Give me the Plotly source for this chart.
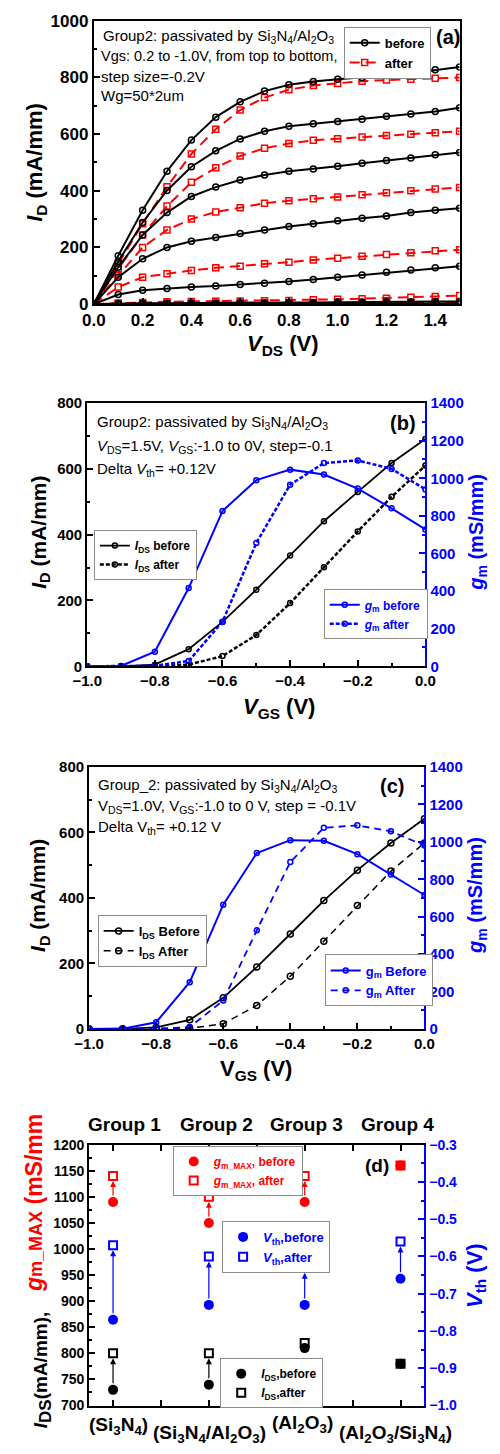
import plotly.graph_objects as go

W, H = 500, 1454
def fx(px): return px / W
def fy(py): return 1 - py / H

BLACK = "#000000"; RED = "#FF0000"; BLUE = "#0000FF"; GRAY = "#8c8c8c"
FONT = "Liberation Sans, Arial, sans-serif"

# ---------------- panel (a) data: output curves ----------------
vds = [0.0, 0.1, 0.2, 0.3, 0.4, 0.5, 0.6, 0.7, 0.8, 0.9, 1.0, 1.1, 1.2, 1.3, 1.4, 1.5]
vgs_steps = ["0.2", "0.0", "-0.2", "-0.4", "-0.6", "-0.8", "-1.0"]
id_before_p02 = [0, 171, 331, 469, 579, 660, 714, 752, 774, 786, 794, 800, 807, 815, 827, 837]
id_before_0 = [0, 150, 288, 401, 485, 541, 583, 610, 628, 637, 645, 653, 663, 671, 680, 693]
id_before_m02 = [0, 130, 244, 323, 380, 413, 438, 456, 469, 477, 487, 497, 507, 516, 527, 535]
id_before_m04 = [0, 95, 160, 200, 222, 235, 249, 262, 274, 284, 294, 303, 311, 323, 331, 338]
id_before_m06 = [0, 34, 49, 55, 60, 64, 69, 74, 80, 87, 95, 103, 112, 120, 128, 134]
id_before_m08 = [0, 2, 3, 3, 4, 4, 5, 5, 6, 6, 7, 7, 8, 8, 9, 9]
id_before_m10 = [0, 0, 1, 1, 1, 1, 1, 1, 1, 1, 2, 2, 2, 2, 2, 2]
id_after_p02 = [0, 142, 284, 414, 530, 617, 685, 729, 757, 772, 779, 787, 791, 794, 797, 800]
id_after_0 = [0, 125, 244, 346, 430, 481, 523, 550, 567, 578, 584, 590, 595, 600, 605, 610]
id_after_m02 = [0, 101, 200, 262, 300, 325, 340, 356, 365, 372, 378, 386, 393, 400, 406, 412]
id_after_m04 = [0, 60, 95, 107, 119, 128, 134, 142, 148, 156, 162, 169, 175, 181, 188, 192]
id_after_m06 = [0, 4, 6, 8, 9, 10, 11, 12, 13, 15, 17, 19, 21, 24, 27, 30]
id_after_m08 = [0, 1, 1, 2, 2, 2, 2, 3, 3, 3, 3, 4, 4, 4, 5, 5]
id_after_m10 = [0, 0, 0, 0, 0, 0, 0, 0, 0, 0, 1, 1, 1, 1, 1, 1]

# ---------------- panel (b) data: transfer, VDS = 1.5 V ----------------
vgs = [-1.0, -0.9, -0.8, -0.7, -0.6, -0.5, -0.4, -0.3, -0.2, -0.1, 0.0]
b_ids_before = [0, 0, 5, 52, 135, 233, 337, 441, 530, 618, 691]
b_ids_after = [0, 0, 0, 5, 31, 95, 192, 301, 410, 515, 610]
b_gm_before = [0, 2, 78, 416, 826, 990, 1046, 1020, 945, 840, 728]
b_gm_after = [0, 0, 3, 28, 237, 656, 966, 1081, 1095, 1050, 941]

# ---------------- panel (c) data: transfer, VDS = 1.0 V ----------------
c_ids_before = [0, 0, 5, 28, 95, 189, 290, 392, 485, 568, 642]
c_ids_after = [0, 0, 0, 2, 16, 72, 161, 268, 377, 482, 568]
c_gm_before = [0, 2, 36, 250, 664, 940, 1009, 1006, 934, 825, 716]
c_gm_after = [0, 0, 2, 10, 152, 527, 892, 1075, 1088, 1056, 980]

# ---------------- panel (d) data: group summary ----------------
groups = [1, 2, 3, 4]
group_names = ["Group 1", "Group 2", "Group 3", "Group 4"]
group_layers = ["(Si<sub>3</sub>N<sub>4</sub>)", "(Si<sub>3</sub>N<sub>4</sub>/Al<sub>2</sub>O<sub>3</sub>)",
                "(Al<sub>2</sub>O<sub>3</sub>)", "(Al<sub>2</sub>O<sub>3</sub>/Si<sub>3</sub>N<sub>4</sub>)"]
gm_max_before = [1090, 1050, 1090, 1160]
gm_max_after = [1140, 1100, 1140, 1160]
vth_before = [-0.77, -0.73, -0.73, -0.66]
vth_after = [-0.57, -0.60, -0.63, -0.56]
ids_max_before = [730, 740, 810, 780]
ids_max_after = [800, 800, 820, 780]

fig = go.Figure()

# ---------- panel (a) traces ----------
befores = [id_before_p02, id_before_0, id_before_m02, id_before_m04, id_before_m06, id_before_m08, id_before_m10]
afters = [id_after_p02, id_after_0, id_after_m02, id_after_m04, id_after_m06, id_after_m08, id_after_m10]
for i, ys in enumerate(afters):
    fig.add_trace(go.Scatter(x=vds, y=ys, xaxis="x", yaxis="y", mode="lines+markers",
                             line=dict(color=RED, width=2, dash="10px,6px"),
                             marker=dict(symbol="square-open", size=6, color=RED, line=dict(width=1.5)),
                             name="after", legend="legend", legendgroup="a_after", legendrank=2,
                             showlegend=(i == 0)))
for i, ys in enumerate(befores):
    fig.add_trace(go.Scatter(x=vds, y=ys, xaxis="x", yaxis="y", mode="lines+markers",
                             line=dict(color=BLACK, width=2),
                             marker=dict(symbol="circle-open", size=6, color=BLACK, line=dict(width=1.5)),
                             name="before", legend="legend", legendgroup="a_before", legendrank=1,
                             showlegend=(i == 0)))

# ---------- panel (b) traces ----------
def mk(sym, color, size=6, lw=1.5):
    return dict(symbol=sym, size=size, color=color, line=dict(width=lw, color=color))

fig.add_trace(go.Scatter(x=vgs, y=b_ids_before, xaxis="x2", yaxis="y2", mode="lines+markers",
                         line=dict(color=BLACK, width=1.8), marker=mk("circle-open", BLACK, 5),
                         name="<i>I</i><sub>DS</sub> before", legend="legend2"))
fig.add_trace(go.Scatter(x=vgs, y=b_ids_after, xaxis="x2", yaxis="y2", mode="lines+markers",
                         line=dict(color=BLACK, width=2.5, dash="4px,2px"), marker=mk("circle-open", BLACK, 5),
                         name="<i>I</i><sub>DS</sub> after", legend="legend2"))
fig.add_trace(go.Scatter(x=vgs, y=b_gm_before, xaxis="x2", yaxis="y3", mode="lines+markers",
                         line=dict(color=BLUE, width=2), marker=mk("circle-open", BLUE, 5),
                         name="<i>g</i><sub>m</sub> before", legend="legend3"))
fig.add_trace(go.Scatter(x=vgs, y=b_gm_after, xaxis="x2", yaxis="y3", mode="lines+markers",
                         line=dict(color=BLUE, width=2.5, dash="4px,2px"), marker=mk("circle-open", BLUE, 5),
                         name="<i>g</i><sub>m</sub> after", legend="legend3"))

# ---------- panel (c) traces ----------
fig.add_trace(go.Scatter(x=vgs, y=c_ids_before, xaxis="x3", yaxis="y4", mode="lines+markers",
                         line=dict(color=BLACK, width=1.8), marker=mk("circle-open", BLACK, 6),
                         name="I<sub>DS</sub> Before", legend="legend4"))
fig.add_trace(go.Scatter(x=vgs, y=c_ids_after, xaxis="x3", yaxis="y4", mode="lines+markers",
                         line=dict(color=BLACK, width=1.5, dash="7px,5px"), marker=mk("circle-open", BLACK, 6),
                         name="I<sub>DS</sub> After", legend="legend4"))
fig.add_trace(go.Scatter(x=vgs, y=c_gm_before, xaxis="x3", yaxis="y5", mode="lines+markers",
                         line=dict(color=BLUE, width=2), marker=mk("circle-open", BLUE, 5),
                         name="g<sub>m</sub> Before", legend="legend5"))
fig.add_trace(go.Scatter(x=vgs, y=c_gm_after, xaxis="x3", yaxis="y5", mode="lines+markers",
                         line=dict(color=BLUE, width=1.8, dash="7px,5px"), marker=mk("circle-open", BLUE, 5),
                         name="g<sub>m</sub> After", legend="legend5"))

# ---------- panel (d) traces ----------
fig.add_trace(go.Scatter(x=groups, y=gm_max_before, xaxis="x4", yaxis="y6", mode="markers",
                         marker=dict(symbol="circle", size=10, color=RED),
                         name="<i>g</i><sub>m_MAX</sub>, before", legend="legend6"))
fig.add_trace(go.Scatter(x=groups, y=gm_max_after, xaxis="x4", yaxis="y6", mode="markers",
                         marker=mk("square-open", RED, 8, 2),
                         name="<i>g</i><sub>m_MAX</sub>, after", legend="legend6"))
fig.add_trace(go.Scatter(x=groups, y=vth_before, xaxis="x4", yaxis="y7", mode="markers",
                         marker=dict(symbol="circle", size=10, color=BLUE),
                         name="<i>V</i><sub>th</sub>,before", legend="legend7"))
fig.add_trace(go.Scatter(x=groups, y=vth_after, xaxis="x4", yaxis="y7", mode="markers",
                         marker=mk("square-open", BLUE, 8, 2),
                         name="<i>V</i><sub>th</sub>,after", legend="legend7"))
fig.add_trace(go.Scatter(x=groups, y=ids_max_before, xaxis="x4", yaxis="y6", mode="markers",
                         marker=dict(symbol="circle", size=10, color=BLACK),
                         name="<i>I</i><sub>DS</sub>,before", legend="legend8"))
fig.add_trace(go.Scatter(x=groups, y=ids_max_after, xaxis="x4", yaxis="y6", mode="markers",
                         marker=mk("square-open", BLACK, 8, 2),
                         name="<i>I</i><sub>DS</sub>,after", legend="legend8"))

# arrows from "before" to "after"
def arrows(before, after, yref, color, min_diff):
    for g, b, a in zip(groups, before, after):
        if abs(a - b) >= min_diff:
            fig.add_annotation(x=g, y=a, ax=g, ay=b, xref="x4", yref=yref, axref="x4", ayref=yref,
                               text="", showarrow=True, arrowhead=2, arrowsize=1, arrowwidth=1.2,
                               arrowcolor=color, standoff=5, startstandoff=5)

arrows(gm_max_before, gm_max_after, "y6", RED, 20)
arrows(vth_before, vth_after, "y7", BLUE, 0.05)
arrows(ids_max_before, ids_max_after, "y6", BLACK, 20)

# ---------- axes ----------
def ax(domain, rng, dtick, tick0, minor, size, color=BLACK, fmt=None, **kw):
    d = dict(domain=domain, range=rng, dtick=dtick, tick0=tick0, tickmode="linear",
             ticks="inside", ticklen=6, tickwidth=1.5, tickcolor=color,
             showline=True, linewidth=2, linecolor=color, showgrid=False, zeroline=False,
             tickfont=dict(family=FONT, size=size, color=color, weight="bold"),
             minor=dict(dtick=minor, ticks="inside", ticklen=3, tickwidth=1.5, tickcolor=color, showgrid=False))
    if fmt:
        d["tickformat"] = fmt
    d.update(kw)
    return d

layout_axes = dict(
    xaxis=ax([fx(83), fx(468)], [0, 1.5], 0.2, 0, 0.1, 17, fmt=".1f", anchor="y", mirror=True),
    yaxis=ax([fy(299), fy(12)], [0, 1000], 200, 0, 100, 17, anchor="x", mirror=True),
    xaxis2=ax([fx(76), fx(432)], [-1, 0], 0.2, -1, 0.1, 15, fmt=".1f", anchor="y2", mirror=True),
    yaxis2=ax([fy(666), fy(399.3)], [0, 800], 200, 0, 100, 15, anchor="x2"),
    yaxis3=ax([fy(666), fy(399.3)], [0, 1400], 200, 0, 100, 15, color=BLUE, anchor="x2",
              overlaying="y2", side="right"),
    xaxis3=ax([fx(78), fx(431)], [-1, 0], 0.2, -1, 0.1, 15, fmt=".1f", anchor="y4", mirror=True),
    yaxis4=ax([fy(1033.5), fy(768)], [0, 800], 200, 0, 100, 15, anchor="x3"),
    yaxis5=ax([fy(1033.5), fy(768)], [0, 1400], 200, 0, 100, 15, color=BLUE, anchor="x3",
              overlaying="y4", side="right"),
    xaxis4=ax([fx(78), fx(431)], [0.75, 4.25], 0.5, 1, 0.5, 14, anchor="y6", mirror="allticks",
              showticklabels=False),
    yaxis6=ax([fy(1415), fy(1150.7)], [700, 1200], 50, 700, 25, 14, anchor="x4"),
    yaxis7=ax([fy(1415), fy(1150.7)], [-1.0, -0.3], 0.1, -1.0, 0.05, 14, color=BLUE, fmt=".1f",
              anchor="x4", overlaying="y6", side="right"),
)

def leg(x, y, size, color=BLACK):
    return dict(x=fx(x), y=fy(y), xanchor="left", yanchor="top", xref="paper", yref="paper",
                bgcolor="white", bordercolor=GRAY, borderwidth=1, itemwidth=30, tracegroupgap=0,
                font=dict(family=FONT, size=size, color=color, weight="bold"))

fig.update_layout(
    width=W, height=H, autosize=False,
    margin=dict(l=0, r=0, t=0, b=0, pad=0),
    paper_bgcolor="white", plot_bgcolor="white",
    font=dict(family=FONT, color=BLACK),
    showlegend=True,
    legend=leg(346, 18, 13),
    legend2=leg(83, 528, 12),
    legend3=leg(325, 588, 12, BLUE),
    legend4=leg(87, 918, 13),
    legend5=leg(326, 958, 13, BLUE),
    legend6=leg(166, 1152, 12, RED),
    legend7=leg(218, 1228, 13, BLUE),
    legend8=leg(216, 1367, 12),
    **layout_axes,
)

def ann(text, x, y, size, color=BLACK, weight="normal", xanchor="left", yanchor="middle", angle=0):
    fig.add_annotation(text=text, x=fx(x), y=fy(y), xref="paper", yref="paper", showarrow=False,
                       xanchor=xanchor, yanchor=yanchor, textangle=angle,
                       font=dict(family=FONT, size=size, color=color, weight=weight))

SNAO = "Si<sub>3</sub>N<sub>4</sub>/Al<sub>2</sub>O<sub>3</sub>"
# panel (a) texts
ann("Group2: passivated by " + SNAO, 90, 28, 15)
ann("Vgs: 0.2 to -1.0V, from top to bottom,", 88, 48, 14.5)
ann("step size=-0.2V", 88, 68, 15)
ann("Wg=50*2um", 88, 88, 15)
ann("(a)", 456, 28, 20, weight="bold", xanchor="center")
ann("<i>I</i><sub>D</sub> (mA/mm)", 22, 155, 22, weight="bold", xanchor="center", angle=-90)
ann("<i>V</i><sub>DS</sub> (V)", 282, 340, 22, weight="bold", xanchor="center")

# panel (b) texts
ann("Group2: passivated by " + SNAO, 84, 419, 15)
ann("<i>V</i><sub>DS</sub>=1.5V, <i>V</i><sub>GS</sub>:-1.0 to 0V, step=-0.1", 84, 443, 15)
ann("Delta <i>V</i><sub>th</sub>= +0.12V", 84, 467, 15)
ann("(b)", 408, 419, 20, weight="bold", xanchor="center")
ann("<i>I</i><sub>D</sub> (mA/mm)", 26, 530, 21, weight="bold", xanchor="center", angle=-90)
ann("<i>g</i><sub>m</sub> (mS/mm)", 486, 530, 20, color=BLUE, weight="bold", xanchor="center", angle=-90)
ann("<i>V</i><sub>GS</sub> (V)", 278, 708, 22, weight="bold", xanchor="center")

# panel (c) texts
ann("Group_2: passivated by " + SNAO, 85, 787, 15)
ann("V<sub>DS</sub>=1.0V, V<sub>GS</sub>:-1.0 to 0 V, step = -0.1V", 85, 808, 15)
ann("Delta V<sub>th</sub>= +0.12 V", 85, 829, 15)
ann("(c)", 397, 787, 20, weight="bold", xanchor="center")
ann("<i>I</i><sub>D</sub> (mA/mm)", 26, 898, 21, weight="bold", xanchor="center", angle=-90)
ann("<i>g</i><sub>m</sub> (mS/mm)", 486, 898, 20, color=BLUE, weight="bold", xanchor="center", angle=-90)
ann("V<sub>GS</sub> (V)", 254, 1075, 22, weight="bold", xanchor="center")

# panel (d) texts
for name, xp in zip(group_names, [115, 212, 307, 403]):
    ann(name, xp, 1130, 19, weight="bold", xanchor="center")
for lbl, xp, yp in zip(group_layers, [109, 205, 303, 401], [1436, 1444, 1434, 1444]):
    ann(lbl, xp, yp, 19, weight="bold", xanchor="center")
ann("(d)", 381, 1172, 19, weight="bold", xanchor="center")
ann("<i>I</i><sub><span style='font-size:17px'>DS</span></sub>(mA/mm),", 29, 1440, 19, weight="bold",
    xanchor="center", yanchor="bottom", angle=-90)
ann("<i>g</i><span style='font-size:18px'>m_MAX</span> (mS/mm", 20, 1302, 23, color=RED, weight="bold",
    xanchor="center", yanchor="bottom", angle=-90)
ann("<i>V</i><sub>th</sub> (V)", 485, 1283, 22, color=BLUE, weight="bold", xanchor="center", angle=-90)

fig.write_html("out.html", config={"displayModeBar": False},
               post_script="document.body.style.margin='0px';")
